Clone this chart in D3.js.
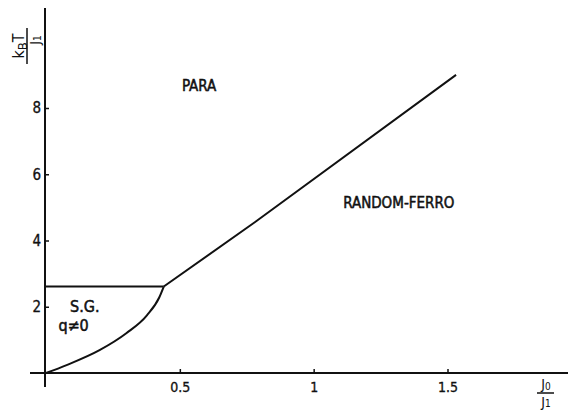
<!DOCTYPE html>
<html>
<head>
<script src="https://d3js.org/d3.v7.min.js"></script>
<style>
  body { margin: 0; background: #fff; }
  text { font-family: "DejaVu Sans Condensed", "DejaVu Sans", sans-serif; fill: #111; }
</style>
</head>
<body>
<script>
  // phase boundaries (J0/J1 , kBT/J1)
  var sgLine = [[0, 2.61], [0.44, 2.61]]
  var sgCurve = [[0, 0], [0.077, 0.24], [0.2, 0.69], [0.3, 1.2], [0.377, 1.74], [0.423, 2.28], [0.44, 2.61]]
  var ferroLine = [[0.44, 2.61], [0.78, 4.55], [1.532, 9.0]]
  var xTicks = [0.5, 1, 1.5]
  var yTicks = [2, 4, 6, 8]
  var regions = [
    { name: "PARA", x: 0.572, y: 8.5 },
    { name: "RANDOM-FERRO", x: 1.318, y: 4.98 },
    { name: "S.G.", x: 0.145, y: 1.85 },
    { name: "q\u22600", x: 0.103, y: 1.27 }
  ]

  var W = 568, H = 410
  var x = d3.scaleLinear().domain([0, 1.5]).range([46, 447.5])
  var y = d3.scaleLinear().domain([0, 8]).range([373, 108])

  var svg = d3.select("body").append("svg").attr("width", W).attr("height", H)

  // axes lines
  svg.append("line").attr("x1", 30).attr("x2", 568).attr("y1", y(0)).attr("y2", y(0))
    .attr("stroke", "#111").attr("stroke-width", 2)
  svg.append("line").attr("x1", x(0) - 1).attr("x2", x(0) - 1).attr("y1", 8).attr("y2", 387)
    .attr("stroke", "#111").attr("stroke-width", 2)

  var ax = d3.axisTop(x).tickValues(xTicks).tickSize(4).tickFormat(d3.format("~g"))
  var gx = svg.append("g").attr("transform", "translate(0," + y(0) + ")").call(ax)
  gx.select(".domain").remove()
  gx.selectAll("line").attr("stroke", "#111").attr("stroke-width", 1.5)
  gx.selectAll("text").attr("y", 9).attr("dy", "0.71em").attr("font-size", 14)
    .attr("stroke", "#111").attr("stroke-width", 0.3)

  var ay = d3.axisRight(y).tickValues(yTicks).tickSize(4)
  var gy = svg.append("g").attr("transform", "translate(" + (x(0) - 1) + ",0)").call(ay)
  gy.select(".domain").remove()
  gy.selectAll("line").attr("stroke", "#111").attr("stroke-width", 1.5)
  gy.selectAll("text").attr("x", -4).attr("text-anchor", "end").attr("font-size", 15)
    .attr("stroke", "#111").attr("stroke-width", 0.3)

  var line = d3.line().x(d => x(d[0])).y(d => y(d[1]))
  var curve = d3.line().x(d => x(d[0])).y(d => y(d[1])).curve(d3.curveMonotoneX)
  svg.append("path").attr("d", line(sgLine)).attr("fill", "none").attr("stroke", "#111").attr("stroke-width", 2)
  svg.append("path").attr("d", curve(sgCurve)).attr("fill", "none").attr("stroke", "#111").attr("stroke-width", 2)
  svg.append("path").attr("d", line(ferroLine)).attr("fill", "none").attr("stroke", "#111").attr("stroke-width", 2)

  svg.selectAll("text.reg").data(regions).enter().append("text").attr("class", "reg")
    .attr("x", d => x(d.x)).attr("y", d => y(d.y))
    .attr("text-anchor", "middle").attr("font-size", d => d.x < 0.3 ? 16 : 15)
    .attr("stroke", "#111").attr("stroke-width", 0.5)
    .text(d => d.name)

  // y label (rotated fraction)
  var yl = svg.append("g").attr("transform", "translate(26,46) rotate(-90)")
  yl.append("text").attr("x", 0).attr("y", -2).attr("text-anchor", "middle").attr("font-size", 16)
    .html('k<tspan font-size="13" dy="3">B</tspan><tspan dy="-3">T</tspan>')
  yl.append("line").attr("x1", -18).attr("x2", 18).attr("y1", 1).attr("y2", 1).attr("stroke", "#111").attr("stroke-width", 1.5)
  yl.append("text").attr("x", 6).attr("y", 14).attr("text-anchor", "middle").attr("font-size", 14)
    .html('J<tspan font-size="10" dy="1">1</tspan>')

  // x label
  var xl = svg.append("g").attr("transform", "translate(546,393)")
  xl.append("text").attr("x", 0).attr("y", -4).attr("text-anchor", "middle").attr("font-size", 14)
    .html('J<tspan font-size="10" dy="1">0</tspan>')
  xl.append("line").attr("x1", -9).attr("x2", 8).attr("y1", 0).attr("y2", 0).attr("stroke", "#111").attr("stroke-width", 1.5)
  xl.append("text").attr("x", 0).attr("y", 14).attr("text-anchor", "middle").attr("font-size", 14)
    .html('J<tspan font-size="10" dy="0">1</tspan>')
</script>
</body>
</html>
